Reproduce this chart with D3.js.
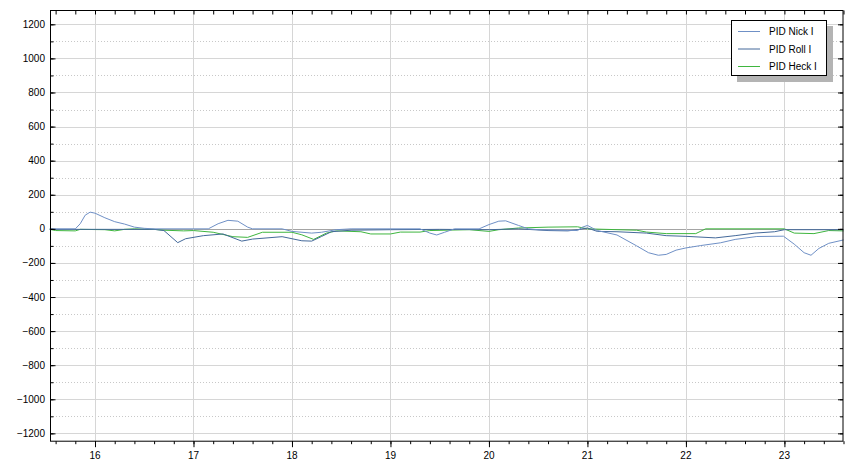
<!DOCTYPE html>
<html><head><meta charset="utf-8">
<script src="https://cdn.jsdelivr.net/npm/d3@7"></script>
<style>body{margin:0;background:#fff}svg{display:block}text{font-family:"Liberation Sans",Arial,sans-serif;font-size:10px;fill:#000}</style>
</head><body><svg id="c" width="854" height="471"></svg>
<script>
const seriesNames = ["PID Nick I", "PID Roll I", "PID Heck I"];
const seriesColors = ["#6f90c6", "#44699a", "#3fb63f"];
const xTicks = [16, 17, 18, 19, 20, 21, 22, 23];
const yTicks = [-1200, -1000, -800, -600, -400, -200, 0, 200, 400, 600, 800, 1000, 1200];

const nickT = [15.54,15.80,15.85,15.90,15.95,16.00,16.10,16.20,16.30,16.40,16.50,16.60,17.15,17.25,17.35,17.45,17.55,17.60,17.90,18.00,18.20,18.30,18.45,18.60,19.30,19.40,19.47,19.55,19.65,19.90,20.00,20.10,20.17,20.30,20.40,20.50,20.90,20.95,21.00,21.05,21.10,21.30,21.50,21.62,21.72,21.80,21.90,22.00,22.15,22.35,22.50,22.72,22.99,23.10,23.20,23.27,23.35,23.45,23.60];
const nickV = [0,0,30,80,98,92,65,42,28,10,3,0,0,30,50,45,10,0,0,-15,-25,-20,-5,0,0,-25,-36,-20,0,0,25,45,47,20,0,-5,-10,10,20,5,-10,-36,-100,-140,-155,-150,-125,-112,-98,-82,-62,-45,-43,-90,-140,-155,-115,-85,-65];

const rollT = [15.54,16.60,16.70,16.84,16.92,17.10,17.30,17.49,17.60,17.90,18.10,18.20,18.30,18.40,18.60,19.00,19.50,20.00,20.30,20.60,20.80,20.90,21.00,21.10,21.30,21.60,21.80,22.00,22.30,22.50,22.70,22.90,23.00,23.60];
const rollV = [-3,-3,-10,-81,-58,-40,-30,-72,-60,-46,-70,-72,-45,-17,-8,-5,-3,-5,0,-10,-12,-5,5,-15,-17,-25,-40,-44,-53,-40,-25,-17,-5,-5];

const heckT = [15.54,15.60,15.80,15.85,16.10,16.20,16.30,16.40,16.60,16.70,16.90,17.00,17.20,17.40,17.55,17.70,18.00,18.10,18.22,18.35,18.45,18.70,18.80,19.00,19.10,19.30,19.40,19.80,20.00,20.10,20.30,20.60,20.90,21.00,21.50,21.60,21.80,22.10,22.20,23.00,23.10,23.30,23.45,23.60];
const heckV = [-3,-10,-12,-3,-5,-12,-3,0,-3,-8,-12,-10,-20,-46,-50,-20,-20,-35,-62,-25,-12,-17,-30,-30,-19,-19,-10,-5,-15,-5,5,10,12,0,-8,-19,-28,-28,0,0,-25,-28,-10,-12];

const svg = d3.select("#c");
const L = 50, R = 843.5, T = 10, B = 440.7;
const x = d3.scaleLinear().domain([15.543, 23.6]).range([L, R]);
const y = d3.scaleLinear().domain([-1243, 1284]).range([B, T]);

// grid
const g = svg.append("g");
for (let v = -1100; v <= 1200; v += 200) {
  g.append("line").attr("x1", L).attr("x2", R).attr("y1", Math.round(y(v)) + 0.5).attr("y2", Math.round(y(v)) + 0.5)
    .attr("stroke", "#c8c8c8").attr("stroke-dasharray", "1,2");
}
yTicks.forEach(v => {
  g.append("line").attr("x1", L).attr("x2", R).attr("y1", Math.round(y(v)) + 0.5).attr("y2", Math.round(y(v)) + 0.5)
    .attr("stroke", v === 0 ? "#a4a4a4" : "#d6d6d6");
});
xTicks.forEach(v => {
  g.append("line").attr("y1", T).attr("y2", B).attr("x1", Math.round(x(v)) + 0.5).attr("x2", Math.round(x(v)) + 0.5)
    .attr("stroke", "#d6d6d6");
});

// series
const line = d3.line().x(d => x(d[0])).y(d => y(d[1]));
const data = [d3.zip(nickT, nickV), d3.zip(rollT, rollV), d3.zip(heckT, heckV)];
[2, 1, 0].forEach(i => {
  svg.append("path").datum(data[i]).attr("d", line).attr("fill", "none")
    .attr("stroke", seriesColors[i]).attr("stroke-width", 1);
});

// frame
svg.append("rect").attr("x", L + 0.5).attr("y", T + 0.5).attr("width", R - L - 1).attr("height", B - T)
  .attr("fill", "none").attr("stroke", "#000");

// axes
const minorY = d3.range(-1200, 1201, 100);
const minorX = d3.range(15.6, 23.61, 0.2);
const yAxisL = d3.axisRight(y).tickValues(yTicks).tickSize(5).tickFormat("");
const yAxisLm = d3.axisRight(y).tickValues(minorY).tickSize(3).tickFormat("");
svg.append("g").attr("transform", `translate(${L + 0.5},0)`).call(yAxisL).call(a => a.select(".domain").remove());
svg.append("g").attr("transform", `translate(${L + 0.5},0)`).call(yAxisLm).call(a => a.select(".domain").remove());
svg.append("g").attr("transform", `translate(${R - 0.5},0)`).call(d3.axisLeft(y).tickValues(yTicks).tickSize(5).tickFormat("")).call(a => a.select(".domain").remove());
svg.append("g").attr("transform", `translate(${R - 0.5},0)`).call(d3.axisLeft(y).tickValues(minorY).tickSize(3).tickFormat("")).call(a => a.select(".domain").remove());
// y labels
yTicks.forEach(v => {
  svg.append("text").attr("x", 45).attr("y", y(v) + 3.5).attr("text-anchor", "end").text(d3.format("d")(v));
});
// bottom
svg.append("g").attr("transform", `translate(0,${B + 0.5})`).call(d3.axisBottom(x).tickValues(xTicks).tickSize(6).tickFormat("")).call(a => a.select(".domain").remove());
svg.append("g").attr("transform", `translate(0,${B + 0.5})`).call(d3.axisBottom(x).tickValues(minorX).tickSize(3).tickFormat("")).call(a => a.select(".domain").remove());
svg.append("g").attr("transform", `translate(0,${T + 0.5})`).call(d3.axisBottom(x).tickValues(minorX).tickSize(4).tickFormat("")).call(a => a.select(".domain").remove());
xTicks.forEach(v => {
  svg.append("text").attr("x", x(v)).attr("y", 459).attr("text-anchor", "middle").text(v);
});
svg.selectAll(".tick line").attr("stroke", "#000");

// legend
const lg = svg.append("g");
lg.append("rect").attr("x", 737).attr("y", 26).attr("width", 96).attr("height", 56).attr("fill", "#b4b4b4");
lg.append("rect").attr("x", 731.5).attr("y", 20.5).attr("width", 95).attr("height", 55).attr("fill", "#fff").attr("stroke", "#000");
seriesNames.forEach((n, i) => {
  const yy = [31, 48.5, 66][i];
  lg.append("line").attr("x1", 738).attr("x2", 760).attr("y1", yy + 0.5).attr("y2", yy + 0.5).attr("stroke", seriesColors[i]);
  lg.append("text").attr("x", 769).attr("y", yy + 4).text(n);
});
</script></body></html>
